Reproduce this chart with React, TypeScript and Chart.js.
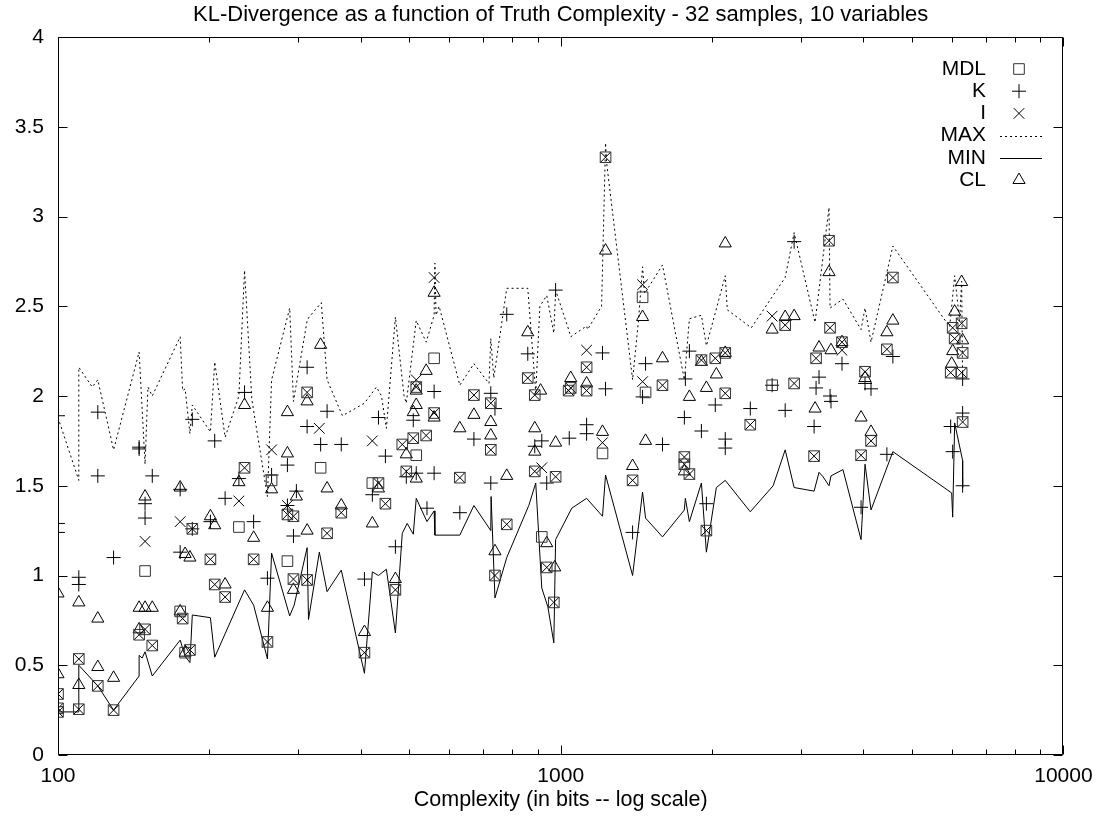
import React, { useEffect, useRef } from 'react';
import { Chart, registerables } from 'chart.js';
import { drawPoint } from 'chart.js/helpers';

Chart.register(...registerables);

const FONT = '"Liberation Sans", Arial, Helvetica, sans-serif';
const TITLE = 'KL-Divergence as a function of Truth Complexity - 32 samples, 10 variables';
const X_TITLE = 'Complexity (in bits -- log scale)';

const yTicks = [0, 0.5, 1, 1.5, 2, 2.5, 3, 3.5, 4];
const xMajorTicks = [100, 1000, 10000];
const xMinorTicks = [200, 300, 400, 500, 600, 700, 800, 900, 2000, 3000, 4000, 5000, 6000, 7000, 8000, 9000];
const legendLabels = ['MDL', 'K', 'I', 'MAX', 'MIN', 'CL'];

type P = [number, number];

// points where MDL and I coincide (drawn as square with an x)
const mdlAndI: P[] = [
  [100, 0.34], [100, 0.26], [100, 0.24], [110, 0.535], [110, 0.255], [120, 0.385], [129, 0.25],
  [145, 0.67], [149, 0.7], [154, 0.61], [177, 0.76], [183, 0.585], [185, 1.26], [201, 1.09],
  [205, 0.95], [215, 0.88], [235, 1.6], [245, 1.09], [261, 0.63], [286, 1.34], [294, 1.33],
  [294, 0.98], [313, 2.02], [313, 0.975], [343, 1.235], [366, 1.35], [407, 0.57], [434, 1.515],
  [448, 1.4], [469, 0.92], [484, 1.73], [493, 1.58], [509, 1.765], [516, 2.05], [540, 1.78],
  [560, 1.905], [630, 1.545], [672, 2.005], [726, 1.96], [726, 1.7], [740, 1.0], [781, 1.285],
  [860, 2.1], [888, 2.005], [888, 1.58], [938, 1.045], [969, 0.85], [977, 1.55], [1037, 2.03],
  [1047, 2.045], [1126, 2.16], [1126, 2.03], [1228, 3.33], [1390, 1.53], [1594, 2.06],
  [1762, 1.66], [1762, 1.62], [1803, 1.565], [1905, 2.2], [1949, 1.25], [2030, 2.21],
  [2125, 2.24], [2125, 2.015], [2383, 1.84], [2796, 2.395], [2913, 2.07], [3221, 2.21],
  [3192, 1.665], [3418, 2.865], [3434, 2.38], [3627, 2.3], [3958, 1.67], [4031, 2.135],
  [4143, 1.75], [4455, 2.26], [4579, 2.66], [5967, 2.13], [6022, 2.38], [6077, 2.32],
  [6274, 2.405], [6274, 2.13], [6303, 2.24], [6303, 1.855],
];

const mdlOnly: P[] = [
  [149, 1.025], [175, 0.8], [179, 0.57], [229, 1.27], [266, 1.53], [286, 1.08], [333, 1.6],
  [422, 1.515], [516, 1.67], [560, 2.21], [917, 1.215], [1211, 1.68], [1455, 2.55], [1475, 2.02],
  [2634, 2.06],
];

const iOnly: P[] = [
  [149, 1.19], [175, 1.3], [229, 1.415], [266, 1.7], [286, 1.39], [331, 1.82], [422, 1.75],
  [516, 2.09], [560, 2.66], [917, 1.6], [1126, 2.255], [1211, 1.74], [1455, 2.62], [1455, 2.08],
  [2634, 2.445], [3627, 2.255],
];

const kPoints: P[] = [
  [100, 1.89], [100, 1.29], [100, 1.24], [110, 0.99], [110, 0.95], [120, 1.91], [120, 1.555],
  [129, 1.1], [145, 1.715], [145, 1.705], [149, 1.4], [149, 1.32], [154, 1.555], [175, 1.48],
  [175, 1.13], [185, 1.87], [185, 1.26], [201, 1.3], [205, 1.75], [215, 1.43], [229, 1.54],
  [235, 2.02], [245, 1.3], [261, 0.985], [266, 1.56], [286, 1.615], [286, 1.39], [294, 1.22],
  [298, 1.47], [313, 1.83], [313, 2.16], [333, 1.73], [343, 1.915], [366, 1.73], [407, 0.98],
  [422, 1.45], [434, 1.88], [448, 1.665], [469, 1.16], [493, 1.55], [509, 1.865], [516, 1.57],
  [542, 1.375], [560, 2.025], [560, 1.57], [630, 1.35], [672, 1.76], [726, 2.015], [726, 1.515],
  [740, 1.93], [781, 2.455], [860, 2.235], [888, 1.72], [917, 1.75], [938, 1.515], [977, 2.59],
  [1040, 1.765], [1126, 1.84], [1126, 1.79], [1211, 2.24], [1228, 2.04], [1390, 1.24],
  [1455, 1.995], [1475, 2.18], [1594, 1.73], [1762, 1.88], [1770, 2.095], [1803, 2.25],
  [1905, 1.805], [1949, 1.4], [2030, 1.95], [2125, 1.76], [2125, 1.71], [2383, 1.93],
  [2634, 2.06], [2796, 1.92], [2913, 2.86], [3221, 2.045], [3192, 1.83], [3265, 2.105],
  [3434, 2.0], [3449, 1.97], [3627, 2.18], [3958, 1.38], [4031, 2.07], [4143, 2.04],
  [4455, 1.675], [4579, 2.22], [5967, 1.83], [6022, 1.69], [6303, 2.095], [6303, 1.905],
  [6303, 1.5],
];

const clPoints: P[] = [
  [100, 0.9], [100, 0.45], [110, 0.85], [110, 0.39], [120, 0.49], [120, 0.76], [129, 0.43],
  [145, 0.82], [145, 0.7], [149, 0.82], [149, 1.44], [154, 0.82], [175, 1.49], [175, 0.8],
  [179, 1.12], [179, 0.57], [183, 1.1], [201, 1.33], [205, 1.28], [215, 0.95], [229, 1.52],
  [235, 1.95], [245, 1.21], [261, 0.82], [266, 1.48], [286, 1.68], [286, 1.91], [294, 0.92],
  [298, 1.44], [313, 1.97], [313, 1.25], [333, 2.285], [343, 1.485], [366, 1.39], [407, 0.685],
  [422, 1.29], [434, 1.485], [469, 0.98], [493, 1.675], [509, 1.91], [516, 1.54], [516, 1.95],
  [516, 2.03], [540, 2.14], [560, 1.88], [560, 2.575], [630, 1.82], [672, 1.895], [726, 1.855],
  [726, 1.78], [740, 1.135], [781, 1.555], [860, 2.355], [888, 1.82], [888, 1.69], [912, 2.03],
  [938, 1.18], [977, 1.74], [973, 1.045], [1047, 2.1], [1126, 2.07], [1211, 1.8], [1228, 2.81],
  [1390, 1.61], [1455, 2.44], [1475, 1.75], [1594, 2.21], [1762, 1.58], [1803, 1.995],
  [1905, 2.19], [1949, 2.045], [2040, 2.12], [2125, 2.24], [2125, 2.85], [2634, 2.37],
  [2796, 2.44], [2913, 2.445], [3206, 1.93], [3265, 2.27], [3418, 2.69], [3449, 2.255],
  [3627, 2.3], [3958, 1.88], [4031, 2.1], [4143, 1.8], [4455, 2.355], [4579, 2.42], [5994, 2.18],
  [6022, 2.25], [6077, 2.47], [6274, 2.635], [6303, 2.31],
];

const maxLine: P[] = [
  [100, 1.88], [110, 1.53], [110, 2.16], [117, 2.05], [120, 2.09], [129, 1.7], [145, 2.245],
  [149, 1.62], [151, 2.05], [154, 2.0], [175, 2.33], [177, 2.03], [179, 2.04], [183, 1.79],
  [185, 1.95], [201, 1.8], [205, 2.19], [215, 1.77], [229, 2.0], [235, 2.7], [243, 1.98],
  [261, 1.44], [266, 2.09], [289, 2.49], [294, 1.97], [313, 2.42], [316, 2.44], [334, 2.52],
  [343, 2.09], [368, 1.89], [407, 1.96], [430, 2.05], [440, 2.0], [450, 1.82], [469, 2.44],
  [488, 2.0], [493, 1.96], [516, 2.42], [540, 2.3], [560, 2.45], [562, 2.74], [565, 2.45],
  [573, 2.5], [630, 2.06], [672, 2.18], [720, 2.07], [726, 2.32], [736, 2.1], [781, 2.6],
  [860, 2.6], [892, 2.02], [909, 2.5], [938, 2.56], [969, 2.35], [977, 2.59], [1037, 2.37],
  [1047, 2.33], [1126, 2.39], [1131, 2.37], [1206, 2.5], [1228, 3.41], [1234, 3.3], [1390, 2.09],
  [1428, 2.42], [1455, 2.72], [1468, 2.57], [1594, 2.73], [1762, 2.09], [1803, 2.43],
  [1905, 2.45], [1949, 2.28], [2125, 2.67], [2145, 2.48], [2394, 2.38], [2796, 2.66],
  [2913, 2.91], [3206, 2.41], [3418, 3.05], [3434, 2.49], [3643, 2.54], [3958, 2.37],
  [4031, 2.49], [4143, 2.3], [4579, 2.835], [5940, 2.385], [6077, 2.67], [6217, 2.42],
  [6274, 2.64], [6303, 2.1],
];

const minLine: P[] = [
  [100, 0.24], [110, 0.24], [110, 0.5], [120, 0.385], [129, 0.25], [145, 0.44], [145, 0.555],
  [147, 0.54], [149, 0.575], [154, 0.44], [175, 0.64], [179, 0.55], [183, 0.515], [185, 0.78],
  [201, 0.765], [205, 0.545], [235, 0.92], [245, 0.835], [261, 0.535], [266, 1.125], [289, 0.775],
  [295, 0.835], [313, 1.155], [315, 0.755], [331, 1.13], [343, 0.91], [366, 1.03], [407, 0.455],
  [422, 1.02], [434, 1.0], [450, 1.035], [469, 0.68], [484, 1.235], [495, 1.29], [509, 1.23],
  [516, 1.43], [542, 1.3], [560, 1.36], [562, 1.225], [630, 1.225], [672, 1.39], [726, 1.25],
  [727, 1.44], [740, 0.875], [781, 1.1], [864, 1.39], [892, 1.515], [917, 0.93], [943, 0.825],
  [969, 0.625], [977, 1.2], [1052, 1.375], [1126, 1.43], [1211, 1.33], [1228, 1.56], [1390, 1.0],
  [1455, 1.465], [1475, 1.32], [1594, 1.215], [1762, 1.365], [1770, 1.43], [1803, 1.3],
  [1905, 1.515], [1949, 1.13], [2040, 1.49], [2125, 1.53], [2383, 1.355], [2646, 1.5],
  [2796, 1.7], [2913, 1.49], [3192, 1.47], [3265, 1.575], [3326, 1.55], [3418, 1.5],
  [3449, 1.555], [3643, 1.59], [3958, 1.2], [4031, 1.62], [4143, 1.365], [4579, 1.69],
  [5994, 1.46], [6022, 1.325], [6077, 1.85], [6303, 1.64], [6303, 1.49],
];

const toXY = (arr: P[]) => arr.map(([x, y]) => ({ x, y }));

const legendStyles: any[] = [
  { kind: 'point', pointStyle: 'rect', radius: 7.5, color: '#333' },
  { kind: 'point', pointStyle: 'cross', radius: 7, color: '#000' },
  { kind: 'point', pointStyle: 'crossRot', radius: 7.5, color: '#000' },
  { kind: 'line', dash: [2, 3] },
  { kind: 'line', dash: [] },
  { kind: 'point', pointStyle: 'triangle', radius: 7, color: '#000' },
];

const framePlugin = {
  id: 'gnuFrame',
  afterDraw(chart: any) {
    const { ctx, chartArea: a, scales } = chart;
    const xs = scales.x;
    const ys = scales.y;
    const L = Math.round(a.left) + 0.5;
    const R = Math.round(a.right) - 0.5;
    const T = Math.round(a.top) + 0.5;
    const B = Math.round(a.bottom) - 0.5;
    ctx.save();
    ctx.strokeStyle = '#000';
    ctx.lineWidth = 1;
    ctx.setLineDash([]);
    ctx.beginPath();
    ctx.rect(L, T, R - L, B - T);
    for (const v of yTicks) {
      const py = Math.round(ys.getPixelForValue(v)) + 0.5;
      ctx.moveTo(L, py);
      ctx.lineTo(L + 9, py);
      ctx.moveTo(R, py);
      ctx.lineTo(R - 9, py);
    }
    for (const v of xMajorTicks) {
      const px = Math.round(xs.getPixelForValue(v)) + 0.5;
      ctx.moveTo(px, B);
      ctx.lineTo(px, B - 9);
      ctx.moveTo(px, T);
      ctx.lineTo(px, T + 9);
    }
    for (const v of xMinorTicks) {
      const px = Math.round(xs.getPixelForValue(v)) + 0.5;
      ctx.moveTo(px, B);
      ctx.lineTo(px, B - 5);
      ctx.moveTo(px, T);
      ctx.lineTo(px, T + 5);
    }
    ctx.stroke();

    // key
    ctx.font = `21px ${FONT}`;
    ctx.fillStyle = '#000';
    ctx.textAlign = 'right';
    ctx.textBaseline = 'middle';
    legendLabels.forEach((label, i) => {
      const y = 69 + i * 22.2;
      ctx.fillText(label, 986, y);
      const st = legendStyles[i];
      if (st.kind === 'line') {
        ctx.beginPath();
        ctx.setLineDash(st.dash);
        ctx.strokeStyle = '#000';
        ctx.lineWidth = 1;
        ctx.moveTo(1000, Math.round(y) + 0.5);
        ctx.lineTo(1042, Math.round(y) + 0.5);
        ctx.stroke();
        ctx.setLineDash([]);
      } else {
        ctx.strokeStyle = st.color;
        ctx.fillStyle = 'rgba(0,0,0,0)';
        ctx.lineWidth = 1;
        drawPoint(ctx, { pointStyle: st.pointStyle, radius: st.radius, rotation: 0, borderWidth: 1 } as any, 1019, y);
        ctx.fillStyle = '#000';
      }
    });
    ctx.restore();
  },
};

function pointSet(label: string, data: P[], style: string, radius: number, color: string) {
  return {
    label,
    data: toXY(data),
    showLine: false,
    pointStyle: style,
    pointRadius: radius,
    pointHoverRadius: radius,
    pointBorderWidth: 1,
    pointBorderColor: color,
    pointBackgroundColor: 'rgba(0,0,0,0)',
    borderColor: color,
    backgroundColor: 'rgba(0,0,0,0)',
  };
}

function lineSet(label: string, data: P[], dash: number[]) {
  return {
    label,
    data: toXY(data),
    showLine: true,
    pointRadius: 0,
    pointHoverRadius: 0,
    borderColor: '#000',
    borderWidth: 1,
    borderDash: dash,
    tension: 0,
    fill: false,
  };
}

export default function App() {
  const ref = useRef<HTMLCanvasElement | null>(null);
  useEffect(() => {
    if (!ref.current) return;
    const chart = new Chart(ref.current, {
      type: 'scatter',
      data: {
        datasets: [
          pointSet('MDL', [...mdlAndI, ...mdlOnly], 'rect', 7.5, '#333'),
          pointSet('K', kPoints, 'cross', 7, '#000'),
          pointSet('I', [...mdlAndI, ...iOnly], 'crossRot', 7.5, '#000'),
          lineSet('MAX', maxLine, [2, 3]),
          lineSet('MIN', minLine, []),
          pointSet('CL', clPoints, 'triangle', 7, '#000'),
        ] as any,
      },
      options: {
        responsive: false,
        animation: false,
        devicePixelRatio: 1,
        events: [],
        layout: { padding: { top: 0, right: 35, bottom: 0, left: 0 } },
        plugins: {
          legend: { display: false },
          tooltip: { enabled: false },
          title: {
            display: true,
            text: TITLE,
            fullSize: false,
            color: '#000',
            font: { family: FONT, size: 22, weight: 'normal' as any },
            padding: { top: 1.8, bottom: 8.8 },
          },
        },
        scales: {
          x: {
            type: 'logarithmic',
            min: 100,
            max: 10000,
            position: 'bottom',
            grid: { display: false, drawTicks: false },
            border: { display: false },
            afterBuildTicks: (s: any) => {
              s.ticks = xMajorTicks.map((value) => ({ value }));
            },
            afterFit: (s: any) => {
              s.height = 62;
            },
            ticks: {
              autoSkip: false,
              maxRotation: 0,
              padding: 8.4,
              color: '#000',
              font: { family: FONT, size: 21 },
              callback: (v: any) => String(v),
            },
            title: {
              display: true,
              text: X_TITLE,
              color: '#000',
              font: { family: FONT, size: 21.5 },
              padding: { top: 0, bottom: 4.2 },
            },
          },
          y: {
            type: 'linear',
            min: 0,
            max: 4,
            grid: { display: false, drawTicks: false },
            border: { display: false },
            afterBuildTicks: (s: any) => {
              s.ticks = yTicks.map((value) => ({ value }));
            },
            afterFit: (s: any) => {
              s.width = 58;
            },
            ticks: {
              padding: 14,
              color: '#000',
              font: { family: FONT, size: 21 },
              callback: (v: any) => String(v),
            },
          },
        },
      } as any,
      plugins: [framePlugin],
    });
    return () => chart.destroy();
  }, []);
  return (
    <div style={{ position: 'fixed', left: 0, top: 0, width: 1101, height: 817, background: '#fff' }}>
      <canvas ref={ref} width={1101} height={817} style={{ display: 'block' }} />
    </div>
  );
}
